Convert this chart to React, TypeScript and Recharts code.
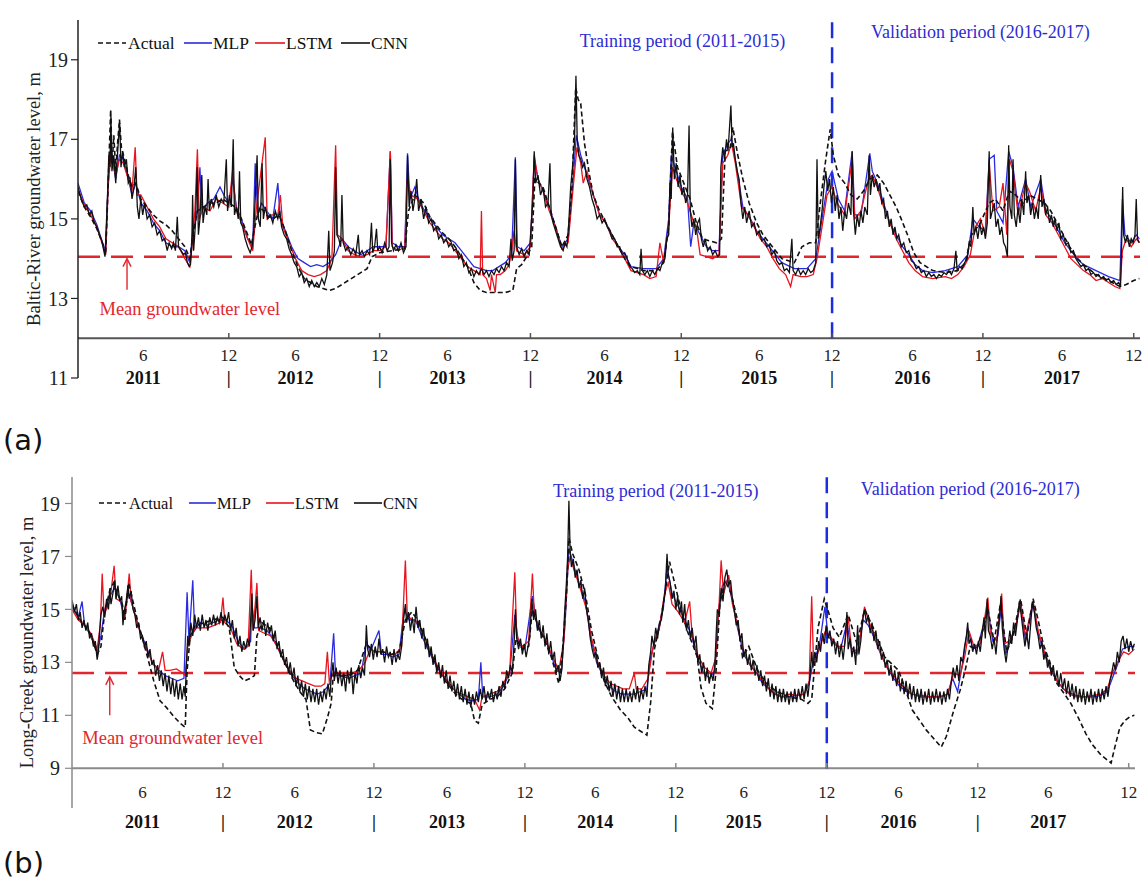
import React from 'react';
import { LineChart, Line, XAxis, YAxis, ReferenceLine, ReferenceDot } from 'recharts';

type P = [number, number];

// ---------------- Panel (a): Baltic-River ----------------
const actualA: P[] = [[0,15.7],[0.5,15.3],[1,15.05],[1.5,14.75],[2,14.35],[2.2,14.1],[2.35,15.4],[2.5,16.8],[2.6,17.75],[2.72,16.4],[2.85,17.1],[3.0,16.2],[3.15,16.9],[3.3,17.5],[3.45,16.8],[3.7,16.5],[4.0,16.1],[4.3,15.8],[4.6,15.9],[5.0,15.5],[5.5,15.3],[6.0,15.1],[6.5,14.95],[7.0,14.85],[7.5,14.7],[8.0,14.5],[8.5,14.3],[8.9,14.0],[9.1,14.5],[9.5,15.2],[10,15.3],[10.5,15.4],[11,15.4],[11.5,15.5],[12,15.4],[12.5,15.3],[13,15.0],[13.5,14.6],[13.8,14.35],[14.2,15.0],[14.5,15.3],[15,15.1],[15.5,15.0],[16,15.1],[16.5,14.7],[17,14.2],[17.5,13.8],[18,13.5],[18.5,13.4],[19,13.3],[19.5,13.25],[20,13.2],[20.5,13.25],[21,13.35],[21.5,13.45],[22,13.55],[22.5,13.65],[23,13.75],[23.4,14.05],[24,14.15],[25,14.2],[26,14.25],[26.3,15.2],[26.8,15.6],[27.5,15.4],[28,15.05],[28.5,14.85],[29,14.65],[29.5,14.5],[30,14.3],[30.5,14.05],[31,13.8],[31.5,13.4],[32,13.2],[32.5,13.15],[33,13.15],[33.5,13.15],[34,13.15],[34.6,13.2],[34.9,13.75],[35.3,13.85],[35.7,14.05],[36.1,14.3],[36.35,16.0],[37,15.8],[37.5,15.3],[38,14.8],[38.5,14.3],[39,14.6],[39.3,15.8],[39.6,18.3],[39.8,18.0],[40.0,17.9],[40.3,16.9],[40.7,16.1],[41,15.6],[41.5,15.2],[42,14.9],[42.5,14.6],[43,14.3],[43.5,14.0],[44,13.8],[45,13.7],[46,13.7],[46.6,13.9],[47,14.8],[47.3,17.2],[47.7,16.3],[48.2,15.9],[48.7,15.5],[49.2,14.9],[49.7,14.5],[50.2,14.45],[50.8,14.4],[51.2,14.5],[51.5,16.7],[51.9,16.8],[52.1,17.3],[52.5,16.6],[52.9,16.0],[53.4,15.4],[54,14.9],[54.5,14.6],[55,14.4],[55.5,14.2],[56,14.0],[57,13.9],[57.6,14.3],[58.2,14.4],[58.7,14.4],[59.1,15.5],[59.5,16.5],[59.85,17.25],[60.1,16.6],[60.5,16.1],[61,15.9],[61.5,15.6],[62,15.5],[62.5,15.7],[63,16.0],[63.6,16.1],[64.1,15.9],[64.6,15.6],[65.1,15.3],[65.5,15.0],[66,14.6],[66.5,14.15],[67,13.9],[68,13.7],[69,13.65],[70,13.7],[70.6,13.9],[71.1,14.6],[71.8,14.9],[72.5,15.4],[73,15.5],[73.6,15.2],[74.1,15.7],[74.6,15.6],[75.2,15.4],[75.7,15.6],[76.3,15.5],[76.9,15.4],[77.4,15.2],[77.9,14.9],[78.4,14.6],[78.9,14.3],[79.4,14.05],[80,13.85],[81,13.6],[82,13.45],[82.9,13.3],[83.4,13.35],[84,13.45],[84.45,13.5]];

const mlpA: P[] = [[0,15.9],[0.5,15.4],[1,15.2],[1.5,14.85],[2,14.35],[2.2,14.2],[2.4,16.0],[2.6,16.8],[2.8,16.4],[3.0,16.0],[3.3,16.6],[3.6,16.5],[4.0,16.0],[4.3,15.6],[4.6,15.9],[5.0,15.4],[5.5,15.2],[6,14.9],[6.5,14.7],[7,14.4],[7.5,14.3],[8,14.3],[8.5,14.2],[8.9,13.9],[9.1,14.6],[9.5,15.2],[9.7,16.3],[9.85,15.2],[10.3,15.4],[10.8,15.5],[11.3,15.8],[11.6,15.6],[12,15.4],[12.3,16.0],[12.6,15.3],[13,15.0],[13.5,14.5],[13.9,14.3],[14.1,16.4],[14.3,15.1],[14.6,15.4],[15,15.2],[15.5,15.0],[15.9,15.9],[16.1,15.0],[16.5,14.7],[17,14.3],[17.5,14.0],[18,13.9],[18.5,13.8],[19,13.85],[19.5,13.8],[20,13.9],[20.5,14.1],[21,14.5],[21.5,14.3],[22,14.2],[22.5,14.1],[23,14.2],[23.5,14.3],[24,14.3],[24.5,14.3],[24.85,16.7],[25,14.4],[25.5,14.3],[26,14.3],[26.22,16.65],[26.4,15.5],[26.8,15.8],[27.2,15.4],[27.6,15.2],[28,15.0],[28.5,14.8],[29,14.6],[29.5,14.5],[30,14.4],[30.5,14.2],[31,14.0],[31.5,13.8],[32,13.75],[32.5,13.7],[33,13.7],[33.5,13.8],[34,13.9],[34.5,14.1],[34.8,16.55],[34.95,14.3],[35.5,14.2],[36,14.4],[36.3,16.5],[36.6,16.0],[37,15.7],[37.5,15.3],[38,14.8],[38.5,14.3],[39,14.5],[39.4,16.0],[39.65,17.1],[40,16.6],[40.5,16.1],[41,15.6],[41.5,15.1],[42,14.9],[42.5,14.6],[43,14.3],[43.5,14.1],[44,13.8],[45,13.75],[46,13.75],[46.6,14.0],[47.0,15.0],[47.2,16.6],[47.5,16.3],[48,15.8],[48.5,15.5],[48.75,14.3],[49,14.9],[49.5,14.6],[50,14.3],[50.5,14.2],[51,14.2],[51.3,16.6],[51.7,16.9],[52.0,17.0],[52.4,16.3],[52.9,15.3],[53.5,15.0],[54,14.7],[54.5,14.5],[55,14.3],[55.5,14.1],[56,13.9],[57,13.75],[58,13.75],[58.7,14.0],[59.2,15.0],[59.7,16.0],[60.0,16.2],[60.5,15.5],[61,15.2],[61.6,16.7],[61.8,15.1],[62.3,15.1],[63.0,16.65],[63.2,16.2],[63.6,15.9],[64.1,15.4],[64.6,14.9],[65.1,14.6],[65.6,14.3],[66.1,14.1],[66.6,13.85],[67.2,13.7],[68,13.65],[69,13.7],[70,13.8],[70.8,14.1],[71.2,15.0],[71.7,14.8],[72.2,14.7],[72.5,16.5],[72.9,16.6],[73.1,15.2],[73.6,14.9],[74.05,16.7],[74.4,16.3],[74.8,15.3],[75.4,16.0],[75.8,15.3],[76.6,16.0],[77,15.2],[77.5,15.0],[78,14.7],[78.5,14.4],[79,14.2],[79.5,14.0],[80,13.85],[81,13.7],[82,13.55],[82.9,13.45],[83.1,15.5],[83.3,14.6],[83.8,14.4],[84.2,14.6],[84.45,14.5]];

const lstmA: P[] = [[0,15.75],[0.5,15.35],[1,15.1],[1.5,14.8],[2,14.3],[2.2,14.1],[2.4,15.8],[2.6,16.6],[2.8,16.3],[3.0,16.1],[3.3,16.5],[3.6,16.4],[4.0,16.0],[4.3,15.7],[4.55,16.8],[4.7,15.6],[5.0,15.6],[5.5,15.3],[6,15.0],[6.5,14.8],[7,14.5],[7.5,14.4],[8,14.3],[8.5,14.0],[8.9,13.8],[9.1,14.4],[9.3,15.2],[9.5,16.75],[9.65,15.0],[10,15.3],[10.5,15.2],[11,15.5],[11.5,15.4],[12,15.3],[12.3,16.2],[12.6,15.2],[13,14.9],[13.5,14.5],[13.9,14.2],[14.2,15.3],[14.9,17.05],[15.05,15.0],[15.4,15.1],[15.9,15.1],[16.1,15.6],[16.3,14.8],[16.8,14.4],[17.3,14.0],[17.8,13.7],[18.3,13.6],[18.8,13.55],[19.3,13.6],[19.8,13.7],[20.2,14.0],[20.5,16.85],[20.65,14.6],[21,14.5],[21.5,14.2],[22,14.1],[22.5,14.05],[23,14.1],[23.5,14.2],[24,14.2],[24.5,14.3],[24.85,16.7],[25.0,14.3],[25.5,14.2],[26,14.3],[26.2,16.0],[26.5,15.6],[27,15.5],[27.5,15.2],[28,14.9],[28.5,14.7],[29,14.5],[29.5,14.4],[30,14.2],[30.5,14.0],[31,13.8],[31.5,13.7],[32,13.6],[32.1,15.2],[32.2,13.6],[32.5,13.5],[32.8,13.2],[32.9,13.6],[33.2,13.15],[33.3,13.6],[33.6,13.6],[34,13.7],[34.3,13.85],[34.5,14.2],[34.7,14.7],[34.9,14.2],[35.5,14.1],[36,14.3],[36.3,16.6],[36.6,16.0],[37,15.7],[37.5,15.2],[38,14.8],[38.5,14.25],[39,14.4],[39.4,15.8],[39.7,16.8],[40,16.4],[40.2,15.9],[40.5,16.2],[41,15.6],[41.5,15.1],[42,14.9],[42.5,14.5],[43,14.3],[43.5,14.0],[44,13.7],[45,13.6],[45.5,13.5],[46,13.55],[46.3,14.4],[46.6,13.9],[47.0,14.8],[47.3,16.3],[47.6,16.0],[48,15.7],[48.5,15.4],[48.9,15.0],[49.2,14.8],[49.5,14.1],[50,14.05],[50.5,14.0],[51,14.1],[51.3,16.4],[51.7,16.6],[52.0,16.9],[52.3,16.4],[52.8,15.3],[53.3,15.1],[53.8,14.8],[54.3,14.5],[54.8,14.3],[55.3,14.0],[55.8,13.75],[56.3,13.6],[56.7,13.3],[56.9,13.6],[57.5,13.55],[58,13.55],[58.5,13.6],[58.8,14.0],[59.2,14.8],[59.6,15.6],[60,15.8],[60.4,15.4],[61,15.1],[61.6,16.5],[61.8,15.0],[62.3,15.2],[62.9,16.0],[63.2,16.1],[63.6,15.8],[64.1,15.3],[64.6,14.9],[65.1,14.5],[65.6,14.2],[66.1,13.9],[66.6,13.7],[67.2,13.55],[68,13.5],[69,13.55],[69.5,13.5],[70,13.6],[70.5,13.8],[71,14.1],[71.4,14.8],[71.8,15.0],[72.2,14.6],[72.5,16.4],[72.8,15.2],[73.3,15.3],[73.6,15.9],[73.9,14.6],[74.1,16.5],[74.4,16.2],[74.8,15.1],[75.4,15.9],[75.7,15.7],[76.2,15.2],[76.6,15.8],[77.0,15.1],[77.5,14.9],[78,14.6],[78.5,14.3],[79,14.0],[79.5,13.85],[80,13.7],[80.5,13.6],[81,13.45],[81.5,13.5],[82,13.4],[82.5,13.3],[82.9,13.25],[83.1,14.2],[83.4,14.5],[83.8,14.3],[84.2,14.5],[84.45,14.4]];

const cnnA: P[] = [[0,15.8],[0.25,15.5],[0.5,15.3],[0.7,15.35],[0.9,15.1],[1.1,15.2],[1.3,14.9],[1.5,14.8],[1.7,14.6],[1.9,14.45],[2.05,14.2],[2.15,14.05],[2.25,14.8],[2.35,15.6],[2.45,16.6],[2.55,16.3],[2.62,17.6],[2.7,16.2],[2.85,16.6],[3.0,15.9],[3.1,16.4],[3.22,17.0],[3.32,17.4],[3.42,16.3],[3.55,16.7],[3.7,16.3],[3.85,16.5],[4.0,15.9],[4.15,16.0],[4.3,15.5],[4.45,15.8],[4.6,16.3],[4.72,15.3],[4.85,15.0],[5.0,15.5],[5.15,15.1],[5.3,15.4],[5.5,15.0],[5.7,15.1],[5.9,14.8],[6.1,14.9],[6.3,14.6],[6.5,14.7],[6.7,14.45],[6.9,14.5],[7.1,14.2],[7.25,14.4],[7.45,14.25],[7.6,14.4],[7.75,14.2],[7.9,15.05],[8.0,14.3],[8.2,14.2],[8.4,14.1],[8.55,14.15],[8.7,13.9],[8.85,13.8],[8.95,13.85],[9.05,14.3],[9.12,15.6],[9.2,14.2],[9.35,14.9],[9.48,16.3],[9.58,14.6],[9.7,15.0],[9.85,16.1],[9.95,14.9],[10.1,15.3],[10.25,15.1],[10.35,16.0],[10.45,15.2],[10.6,15.5],[10.8,15.3],[11.0,15.6],[11.2,15.3],[11.4,15.5],[11.6,15.4],[11.8,16.5],[11.9,15.2],[12.05,15.6],[12.2,15.3],[12.35,17.0],[12.45,15.1],[12.6,15.3],[12.75,15.0],[12.85,16.2],[12.95,14.9],[13.1,14.8],[13.3,14.5],[13.5,14.3],[13.7,14.15],[13.85,14.3],[14.0,14.8],[14.25,16.6],[14.35,15.0],[14.5,14.8],[14.65,16.4],[14.75,15.0],[14.9,15.3],[15.1,15.0],[15.3,15.1],[15.5,14.9],[15.7,15.2],[15.9,15.0],[16.05,15.2],[16.2,14.8],[16.4,14.6],[16.6,14.5],[16.8,14.25],[17.0,14.1],[17.2,13.9],[17.4,13.8],[17.6,13.55],[17.8,13.65],[18.0,13.4],[18.2,13.5],[18.4,13.3],[18.6,13.45],[18.8,13.3],[19.0,13.4],[19.2,13.3],[19.4,13.5],[19.6,13.35],[19.8,13.6],[19.95,14.7],[20.05,13.7],[20.25,13.9],[20.4,14.2],[20.5,16.3],[20.6,14.6],[20.75,14.5],[20.9,14.3],[21.0,15.6],[21.1,14.4],[21.3,14.2],[21.5,14.3],[21.7,14.1],[21.9,14.25],[22.1,14.1],[22.3,14.6],[22.4,14.1],[22.6,14.2],[22.8,14.05],[23.0,14.2],[23.2,14.1],[23.35,14.9],[23.45,14.15],[23.6,14.3],[23.75,14.75],[23.85,14.2],[24.0,14.3],[24.2,14.15],[24.4,14.4],[24.6,14.2],[24.75,14.3],[24.85,16.5],[24.95,14.4],[25.1,14.2],[25.3,14.35],[25.5,14.2],[25.7,14.4],[25.9,14.15],[26.1,14.3],[26.22,16.6],[26.35,15.3],[26.5,15.7],[26.65,15.2],[26.8,15.5],[26.95,16.0],[27.1,15.2],[27.3,15.5],[27.5,15.0],[27.7,15.3],[27.9,14.9],[28.1,15.0],[28.3,14.7],[28.5,14.8],[28.7,14.5],[28.9,14.6],[29.1,14.4],[29.3,14.5],[29.5,14.3],[29.7,14.4],[29.9,14.2],[30.1,14.25],[30.3,14.0],[30.5,14.1],[30.7,13.8],[30.9,13.9],[31.1,13.65],[31.3,13.75],[31.5,13.55],[31.7,13.7],[31.9,13.6],[32.1,13.75],[32.3,13.6],[32.5,13.7],[32.7,13.55],[32.9,13.7],[33.1,13.6],[33.3,13.75],[33.5,13.65],[33.7,13.8],[33.9,13.7],[34.1,13.9],[34.3,13.8],[34.45,14.5],[34.55,13.95],[34.7,14.2],[34.8,16.5],[34.9,14.3],[35.1,14.1],[35.3,14.25],[35.5,14.05],[35.7,14.2],[35.9,14.1],[36.05,14.8],[36.2,15.5],[36.3,16.7],[36.42,15.9],[36.6,16.1],[36.8,15.6],[37.0,15.8],[37.2,15.3],[37.4,15.4],[37.55,16.4],[37.65,15.1],[37.8,14.9],[38.0,14.7],[38.2,14.5],[38.4,14.3],[38.6,14.2],[38.75,14.4],[38.9,14.3],[39.05,14.9],[39.2,15.8],[39.35,16.3],[39.5,16.9],[39.62,18.6],[39.72,17.0],[39.85,16.6],[40.0,16.5],[40.15,16.3],[40.3,16.4],[40.5,16.0],[40.7,15.8],[40.9,15.5],[41.1,15.3],[41.3,15.0],[41.5,15.1],[41.7,14.9],[41.9,15.0],[42.1,14.8],[42.3,14.7],[42.5,14.5],[42.7,14.5],[42.9,14.3],[43.1,14.3],[43.3,14.1],[43.5,14.15],[43.7,14.0],[43.9,13.8],[44.1,13.75],[44.3,13.65],[44.5,13.7],[44.7,13.6],[44.8,14.25],[44.9,13.7],[45.1,13.6],[45.3,13.7],[45.5,13.55],[45.7,13.7],[45.9,13.6],[46.1,13.75],[46.3,13.7],[46.5,13.9],[46.7,14.0],[46.85,14.5],[47.0,14.6],[47.1,15.9],[47.2,15.5],[47.32,17.3],[47.45,16.0],[47.6,16.4],[47.75,15.8],[47.9,16.1],[48.05,15.6],[48.2,15.8],[48.35,15.4],[48.5,15.6],[48.62,17.35],[48.72,15.2],[48.85,14.8],[49.0,15.0],[49.15,14.6],[49.3,14.9],[49.45,15.0],[49.6,14.5],[49.75,14.3],[49.9,14.5],[50.1,14.2],[50.3,14.3],[50.5,14.1],[50.7,14.2],[50.9,14.05],[51.05,14.1],[51.15,16.3],[51.3,16.8],[51.45,16.5],[51.6,17.0],[51.72,16.7],[51.95,17.85],[52.05,16.8],[52.15,16.9],[52.3,16.5],[52.45,16.2],[52.6,16.0],[52.75,15.4],[52.9,15.0],[53.05,15.3],[53.2,14.9],[53.4,15.2],[53.6,14.8],[53.8,14.9],[54.0,14.6],[54.2,14.7],[54.4,14.45],[54.6,14.5],[54.8,14.3],[55.0,14.35],[55.2,14.1],[55.4,14.2],[55.6,13.95],[55.8,13.85],[56.0,13.9],[56.2,13.7],[56.4,13.75],[56.6,13.65],[56.8,14.5],[56.9,13.7],[57.1,13.6],[57.3,13.75],[57.5,13.6],[57.7,13.7],[57.9,13.6],[58.1,13.75],[58.3,13.65],[58.5,13.7],[58.7,13.9],[58.8,16.5],[58.9,14.5],[59.05,14.8],[59.2,15.2],[59.35,15.8],[59.5,16.2],[59.65,15.7],[59.8,16.0],[59.95,15.4],[60.1,15.8],[60.25,15.2],[60.4,15.6],[60.55,15.0],[60.7,15.3],[60.85,14.7],[61.0,15.2],[61.15,15.0],[61.3,15.4],[61.5,15.1],[61.6,16.7],[61.7,15.2],[61.85,14.6],[62.0,15.1],[62.15,14.8],[62.3,15.2],[62.45,14.9],[62.6,15.3],[62.8,15.1],[62.95,16.6],[63.05,15.6],[63.2,16.1],[63.35,15.8],[63.5,16.0],[63.65,15.7],[63.8,15.9],[63.95,15.4],[64.1,15.5],[64.25,15.0],[64.4,15.2],[64.55,14.8],[64.7,15.0],[64.85,14.6],[65.0,14.8],[65.15,14.5],[65.3,14.6],[65.5,14.3],[65.7,14.4],[65.9,14.15],[66.1,14.2],[66.3,13.95],[66.5,13.9],[66.7,13.75],[66.9,13.8],[67.1,13.65],[67.3,13.7],[67.5,13.55],[67.7,13.65],[67.9,13.55],[68.1,13.6],[68.3,13.5],[68.5,13.6],[68.7,13.55],[68.9,13.65],[69.1,13.6],[69.3,13.7],[69.5,13.6],[69.7,13.75],[69.85,14.2],[69.95,13.7],[70.15,13.8],[70.35,13.75],[70.55,13.9],[70.75,14.0],[70.9,14.4],[71.05,14.3],[71.2,15.3],[71.3,14.6],[71.45,14.8],[71.6,14.5],[71.75,14.9],[71.9,14.6],[72.05,14.8],[72.2,14.5],[72.35,14.9],[72.5,16.7],[72.6,15.0],[72.75,15.2],[72.9,15.4],[73.05,14.8],[73.2,15.0],[73.35,14.6],[73.5,14.8],[73.65,14.4],[73.8,14.3],[73.95,14.05],[74.05,16.85],[74.15,15.3],[74.3,15.0],[74.4,16.5],[74.5,15.1],[74.65,14.8],[74.8,15.3],[74.95,14.9],[75.1,15.5],[75.25,15.1],[75.4,16.2],[75.5,15.4],[75.65,15.6],[75.8,15.1],[75.95,15.4],[76.1,15.0],[76.25,15.3],[76.4,15.0],[76.6,16.1],[76.7,15.3],[76.85,15.5],[77.0,15.1],[77.15,15.3],[77.3,14.9],[77.45,15.1],[77.6,14.8],[77.75,15.0],[77.9,14.7],[78.05,14.9],[78.2,14.5],[78.4,14.6],[78.6,14.35],[78.8,14.4],[79.0,14.15],[79.2,14.2],[79.4,14.0],[79.6,13.9],[79.8,13.8],[80.0,13.85],[80.2,13.7],[80.4,13.75],[80.6,13.6],[80.8,13.65],[81.0,13.55],[81.2,13.6],[81.4,13.5],[81.6,13.55],[81.8,13.45],[82.0,13.5],[82.2,13.4],[82.4,13.45],[82.6,13.35],[82.8,13.4],[82.95,13.3],[83.05,14.5],[83.12,15.8],[83.2,14.6],[83.35,14.4],[83.5,14.6],[83.65,14.3],[83.8,14.5],[83.95,14.4],[84.1,14.6],[84.2,15.5],[84.3,14.5],[84.45,14.4]];

// ---------------- Panel (b): Long-Creek ----------------
const actualB: P[] = [[0,15.2],[0.4,14.8],[0.8,14.5],[1.2,14.3],[1.6,13.9],[2.0,13.3],[2.3,13.6],[2.6,14.9],[3.0,15.7],[3.3,16.0],[3.6,15.6],[4.0,15.2],[4.2,14.6],[4.5,16.0],[4.8,15.4],[5.2,14.6],[5.6,13.9],[6.0,13.2],[6.5,12.3],[7.0,11.55],[7.5,11.3],[8.1,10.95],[8.6,10.7],[9.0,10.55],[9.15,12.7],[9.4,14.0],[9.8,14.4],[10.5,14.5],[11.2,14.6],[12.0,14.7],[12.5,14.3],[12.9,12.8],[13.3,12.5],[13.7,12.3],[14.2,12.4],[14.5,12.5],[14.7,14.0],[15.1,14.5],[15.7,14.3],[16.3,13.7],[16.9,13.0],[17.5,12.4],[18.1,11.9],[18.6,11.6],[18.95,10.45],[19.4,10.35],[19.9,10.3],[20.3,10.9],[20.6,11.45],[20.8,12.7],[21.3,12.5],[22,12.5],[22.7,12.7],[23.4,13.7],[24,13.4],[24.7,13.4],[25.4,13.3],[26,13.4],[26.5,14.6],[27.0,14.9],[27.5,14.6],[28.0,14.0],[28.5,13.4],[29.0,12.8],[29.5,12.4],[30.0,12.1],[30.5,11.8],[31.0,11.6],[31.7,11.45],[32.0,10.8],[32.3,10.7],[32.6,11.4],[33.2,11.6],[33.8,11.7],[34.4,12.0],[35.0,12.6],[35.3,13.9],[35.8,13.5],[36.3,13.6],[36.6,15.0],[37.1,14.3],[37.6,13.8],[38.1,13.2],[38.7,12.2],[39.0,13.5],[39.3,15.5],[39.5,17.7],[39.8,17.1],[40.3,16.5],[40.8,15.6],[41.3,14.2],[41.8,13.2],[42.3,12.3],[42.9,11.7],[43.6,11.2],[44.2,10.9],[44.7,10.55],[45.2,10.4],[45.7,10.25],[46.0,11.5],[46.3,13.5],[46.8,14.6],[47.2,15.8],[47.5,16.8],[47.9,16.0],[48.4,15.0],[48.9,14.2],[49.4,13.6],[49.7,13.2],[50.0,12.05],[50.4,11.45],[50.9,11.25],[51.2,12.7],[51.5,15.2],[51.9,16.1],[52.4,15.6],[52.9,14.6],[53.3,13.2],[53.8,13.6],[54.5,12.7],[55.2,12.2],[56,11.9],[57,11.7],[58,11.6],[58.5,11.45],[58.8,11.6],[59.3,14.3],[59.8,15.4],[60.2,14.8],[60.5,14.3],[61.0,13.95],[61.7,14.8],[62.4,13.7],[63.0,15.0],[63.7,14.3],[64.6,13.2],[65.7,12.7],[66.2,12.05],[66.8,11.2],[67.9,10.45],[69.1,9.8],[69.5,10.2],[70.1,11.2],[70.6,11.95],[71.0,12.7],[71.4,13.6],[71.9,13.5],[72.4,14.2],[72.8,15.0],[73.3,13.8],[73.8,15.2],[74.3,13.4],[74.8,14.0],[75.4,15.4],[75.9,14.0],[76.4,15.4],[76.8,14.6],[77.2,13.7],[77.8,12.9],[78.3,12.2],[78.9,11.8],[79.4,11.45],[80.0,10.9],[80.6,10.3],[81.1,9.9],[81.8,9.5],[82.6,9.2],[82.9,9.8],[83.3,10.55],[83.7,10.8],[84.1,10.95],[84.45,11.0]];

const mlpB: P[] = [[0,15.1],[0.5,14.7],[0.8,15.3],[1.0,14.4],[1.5,14.0],[2.0,13.4],[2.3,14.0],[2.6,15.0],[3.0,15.5],[3.4,15.8],[3.8,15.4],[4.1,14.8],[4.5,15.6],[4.9,15.0],[5.4,14.2],[5.9,13.6],[6.4,13.0],[6.9,12.7],[7.4,12.5],[7.9,12.4],[8.4,12.3],[8.9,12.4],[9.15,15.65],[9.3,13.8],[9.6,16.1],[9.75,14.2],[10.2,14.5],[10.7,14.4],[11.2,14.5],[11.7,14.6],[12.2,14.6],[12.7,14.4],[13.2,13.8],[13.7,13.5],[14.2,13.8],[14.3,15.2],[14.5,14.3],[15,14.3],[15.5,14.2],[16,13.9],[16.5,13.4],[17,12.9],[17.5,12.5],[18,12.2],[18.5,12.0],[19,11.9],[19.5,11.8],[20,11.9],[20.5,12.2],[20.8,14.1],[20.95,12.5],[21.3,12.5],[22,12.4],[22.5,12.5],[23,12.6],[23.4,13.8],[23.7,13.4],[24.4,14.2],[24.6,13.3],[25,13.3],[25.5,13.2],[26,13.3],[26.4,15.0],[26.8,14.6],[27.3,14.6],[27.8,14.0],[28.3,13.5],[28.8,13.0],[29.3,12.6],[29.8,12.3],[30.3,12.0],[30.8,11.8],[31.3,11.6],[31.8,11.55],[32.3,11.6],[32.5,13.0],[32.65,11.7],[33.2,11.7],[33.8,11.8],[34.3,12.1],[34.8,12.6],[35.2,14.8],[35.5,13.7],[36,13.5],[36.6,15.5],[37,14.3],[37.5,14.0],[38,13.4],[38.5,12.7],[38.9,12.6],[39.2,14.5],[39.5,17.3],[39.8,16.8],[40.3,16.0],[40.8,15.3],[41.2,14.0],[41.7,13.0],[42.2,12.5],[42.7,12.1],[43.2,11.9],[43.7,11.8],[44.2,11.8],[44.7,11.8],[45.2,11.9],[45.7,12.0],[46.0,13.2],[46.5,14.1],[47.0,15.0],[47.3,16.6],[47.7,15.6],[48.2,15.1],[48.7,14.6],[49.2,14.1],[49.7,13.2],[50.2,12.6],[50.7,12.4],[51.1,12.7],[51.4,15.0],[51.7,15.9],[52.1,16.1],[52.5,15.3],[52.9,14.3],[53.4,13.3],[53.9,12.9],[54.4,12.6],[54.9,12.2],[55.4,12.0],[55.9,11.8],[56.4,11.7],[57,11.7],[57.6,11.75],[58.2,11.8],[58.6,12.2],[58.9,13.0],[59.4,13.6],[59.85,15.1],[60.1,14.0],[60.6,13.7],[61.1,13.5],[61.6,14.5],[61.9,13.6],[62.4,13.3],[62.9,14.6],[63.3,14.4],[63.8,13.9],[64.3,13.3],[64.8,12.8],[65.3,12.4],[65.8,12.1],[66.3,11.9],[66.8,11.8],[67.5,11.7],[68.2,11.7],[69,11.7],[69.6,11.8],[70.0,12.4],[70.4,11.9],[70.8,13.0],[71.2,14.3],[71.6,13.5],[72.0,13.6],[72.5,14.5],[72.8,15.0],[73.2,13.8],[73.6,14.0],[73.9,15.2],[74.2,13.3],[74.6,13.8],[75.0,14.3],[75.4,15.2],[75.8,13.8],[76.4,15.2],[76.8,14.1],[77.3,13.3],[77.8,12.7],[78.3,12.3],[78.8,12.0],[79.3,11.85],[79.8,11.75],[80.5,11.7],[81.2,11.7],[81.8,11.75],[82.3,11.9],[82.7,12.4],[83.1,12.9],[83.5,13.5],[84.0,13.6],[84.45,13.6]];

const lstmB: P[] = [[0,15.0],[0.5,14.6],[1.0,14.4],[1.5,14.1],[2.0,13.5],[2.25,14.4],[2.4,16.35],[2.55,14.8],[3.0,15.3],[3.35,16.65],[3.5,15.4],[3.9,15.3],[4.2,14.6],[4.55,16.35],[4.7,15.3],[5.0,14.8],[5.5,14.0],[6.0,13.4],[6.5,12.9],[6.9,12.75],[7.2,13.4],[7.4,12.7],[7.8,12.7],[8.3,12.75],[8.8,12.6],[9.0,12.5],[9.2,13.6],[9.5,14.0],[9.8,14.3],[10.3,14.3],[10.8,14.3],[11.3,14.4],[11.8,14.5],[12.0,15.45],[12.15,14.5],[12.6,14.3],[13.1,13.7],[13.6,13.5],[14.0,13.6],[14.25,16.5],[14.4,14.2],[14.7,16.0],[14.85,14.2],[15.3,14.1],[15.8,14.0],[16.3,13.6],[16.8,13.1],[17.3,12.7],[17.8,12.4],[18.3,12.3],[18.8,12.2],[19.3,12.1],[19.8,12.1],[20.1,12.2],[20.3,13.4],[20.45,12.3],[20.8,12.6],[21.3,12.6],[21.8,12.5],[22.3,12.6],[22.8,12.7],[23.3,13.0],[23.7,13.5],[24.2,13.4],[24.7,13.4],[25.2,13.3],[25.7,13.3],[26.2,13.6],[26.5,16.85],[26.65,14.8],[27.0,14.6],[27.5,14.5],[28.0,14.0],[28.5,13.4],[29.0,12.9],[29.5,12.5],[30.0,12.2],[30.5,11.9],[31.0,11.8],[31.5,11.7],[32.0,11.6],[32.4,11.2],[32.6,11.7],[33.2,11.8],[33.8,11.9],[34.3,12.2],[34.8,12.7],[35.2,16.4],[35.35,14.0],[35.8,13.6],[36.3,13.8],[36.6,16.35],[36.75,14.8],[37.2,14.2],[37.7,13.8],[38.2,13.2],[38.7,12.7],[39.1,13.8],[39.4,16.5],[39.6,17.0],[39.9,16.5],[40.4,15.8],[40.9,15.0],[41.3,13.9],[41.8,13.0],[42.3,12.5],[42.8,12.2],[43.3,12.1],[43.8,12.0],[44.3,12.0],[44.7,12.6],[44.85,12.0],[45.3,12.0],[45.8,12.4],[46.2,13.6],[46.7,14.3],[47.1,15.6],[47.4,16.0],[47.7,15.2],[48.2,14.9],[48.7,14.5],[49.1,15.3],[49.3,14.0],[49.8,13.2],[50.3,12.8],[50.8,12.6],[51.2,13.2],[51.45,15.3],[51.6,16.85],[51.8,15.6],[52.2,16.3],[52.5,15.2],[52.9,14.4],[53.4,13.4],[53.9,12.9],[54.4,12.6],[54.9,12.3],[55.4,12.0],[55.9,11.8],[56.5,11.7],[57,11.8],[57.6,11.75],[58.2,11.8],[58.6,12.3],[58.8,15.5],[58.95,12.9],[59.4,13.5],[59.9,14.2],[60.4,13.9],[60.9,13.6],[61.4,13.6],[61.7,14.7],[62.0,13.4],[62.5,13.5],[63.0,15.1],[63.3,14.6],[63.8,14.0],[64.3,13.3],[64.8,12.8],[65.3,12.5],[65.8,12.2],[66.3,12.0],[66.8,11.8],[67.5,11.75],[68.2,11.7],[69,11.7],[69.6,11.8],[70.1,12.6],[70.6,12.5],[71.0,13.3],[71.3,14.2],[71.7,13.6],[72.2,13.7],[72.5,14.5],[72.8,15.45],[73.0,14.1],[73.5,13.8],[73.9,15.6],[74.1,13.7],[74.5,13.8],[75.0,14.3],[75.4,15.3],[75.8,14.0],[76.4,15.3],[76.8,14.2],[77.3,13.4],[77.8,12.8],[78.3,12.3],[78.8,12.0],[79.3,11.8],[79.8,11.7],[80.5,11.7],[81.2,11.75],[81.8,11.8],[82.3,12.0],[82.7,12.6],[83.1,13.0],[83.6,13.4],[84.0,13.3],[84.45,13.5]];

const cnnB: P[] = [[0,15.35],[0.2,14.9],[0.35,15.2],[0.5,14.6],[0.65,14.9],[0.8,14.3],[0.95,14.6],[1.1,14.2],[1.25,14.5],[1.4,13.9],[1.55,14.1],[1.7,13.6],[1.85,13.8],[2.0,13.1],[2.1,13.4],[2.2,14.2],[2.3,14.8],[2.45,15.1],[2.6,14.7],[2.75,15.4],[2.9,15.0],[3.0,15.8],[3.1,15.2],[3.25,15.6],[3.4,16.1],[3.5,15.4],[3.65,15.9],[3.8,15.3],[3.95,15.5],[4.05,14.4],[4.15,14.9],[4.3,15.3],[4.45,15.9],[4.55,15.4],[4.7,15.7],[4.85,15.0],[5.0,14.8],[5.15,14.3],[5.3,14.5],[5.45,13.9],[5.6,14.0],[5.75,13.6],[5.9,13.8],[6.05,13.2],[6.2,13.5],[6.35,12.9],[6.5,13.1],[6.65,12.5],[6.8,12.9],[6.95,12.3],[7.1,12.7],[7.25,12.1],[7.4,12.6],[7.55,11.9],[7.7,12.5],[7.85,11.8],[8.0,12.4],[8.15,11.7],[8.3,12.3],[8.45,11.6],[8.6,12.2],[8.75,11.6],[8.9,12.1],[9.0,11.7],[9.1,13.0],[9.2,14.0],[9.3,13.6],[9.45,14.5],[9.6,14.0],[9.75,14.8],[9.9,14.3],[10.05,14.7],[10.2,14.2],[10.35,14.8],[10.5,14.3],[10.65,14.6],[10.8,14.2],[10.95,14.7],[11.1,14.4],[11.25,14.8],[11.4,14.4],[11.55,14.7],[11.7,14.5],[11.85,14.9],[12.0,14.4],[12.15,14.8],[12.3,14.5],[12.45,14.9],[12.6,14.2],[12.75,14.6],[12.9,13.9],[13.05,14.3],[13.2,13.6],[13.35,14.0],[13.5,13.4],[13.65,13.8],[13.8,13.5],[13.95,13.9],[14.1,13.6],[14.2,14.6],[14.3,15.6],[14.4,14.2],[14.55,14.6],[14.7,15.5],[14.8,14.3],[14.95,14.7],[15.1,14.2],[15.25,14.6],[15.4,14.0],[15.55,14.5],[15.7,14.1],[15.85,14.4],[16.0,13.8],[16.15,14.2],[16.3,13.5],[16.45,13.8],[16.6,13.2],[16.75,13.5],[16.9,12.9],[17.05,13.2],[17.2,12.6],[17.35,13.0],[17.5,12.4],[17.65,12.8],[17.8,12.1],[17.95,12.5],[18.1,11.9],[18.25,12.3],[18.4,11.7],[18.55,12.2],[18.7,11.6],[18.85,12.1],[19.0,11.5],[19.15,12.0],[19.3,11.5],[19.45,12.0],[19.6,11.4],[19.75,11.9],[19.9,11.5],[20.05,12.0],[20.2,11.6],[20.35,12.2],[20.5,11.7],[20.6,12.4],[20.75,13.0],[20.85,12.3],[21.0,12.8],[21.15,12.2],[21.3,12.7],[21.45,12.1],[21.6,12.6],[21.75,11.9],[21.9,12.7],[22.05,12.2],[22.2,12.8],[22.35,11.8],[22.5,12.6],[22.65,12.2],[22.8,12.9],[22.95,12.4],[23.1,12.8],[23.25,12.5],[23.4,14.4],[23.5,13.5],[23.65,13.2],[23.8,13.7],[23.95,13.1],[24.1,13.6],[24.25,13.2],[24.4,13.9],[24.55,13.3],[24.7,13.5],[24.85,13.0],[25.0,13.6],[25.15,13.2],[25.3,13.4],[25.45,12.9],[25.6,13.5],[25.75,13.0],[25.9,13.3],[26.05,13.1],[26.2,13.6],[26.35,14.6],[26.5,15.2],[26.6,14.5],[26.75,14.9],[26.9,14.2],[27.05,14.7],[27.2,14.1],[27.35,15.1],[27.5,14.3],[27.65,14.6],[27.8,13.9],[27.95,14.3],[28.1,13.5],[28.25,13.9],[28.4,13.2],[28.55,13.6],[28.7,12.9],[28.85,13.3],[29.0,12.6],[29.15,13.0],[29.3,12.4],[29.45,12.9],[29.6,12.2],[29.75,12.7],[29.9,12.0],[30.05,12.5],[30.2,11.9],[30.35,12.3],[30.5,11.7],[30.65,12.2],[30.8,11.6],[30.95,12.1],[31.1,11.5],[31.25,12.0],[31.4,11.4],[31.55,11.9],[31.7,11.3],[31.85,11.8],[32.0,11.4],[32.15,11.9],[32.3,11.5],[32.45,12.0],[32.6,11.6],[32.75,12.1],[32.9,11.5],[33.05,11.9],[33.2,11.6],[33.35,12.0],[33.5,11.5],[33.65,11.9],[33.8,11.6],[33.95,12.1],[34.1,11.7],[34.25,12.3],[34.4,12.0],[34.55,12.7],[34.7,12.4],[34.85,12.9],[35.0,12.6],[35.15,13.8],[35.25,15.0],[35.35,13.9],[35.5,13.5],[35.65,13.9],[35.8,13.3],[35.95,13.7],[36.1,13.2],[36.25,13.6],[36.4,14.0],[36.55,15.4],[36.7,14.6],[36.85,15.0],[37.0,14.2],[37.15,14.6],[37.3,13.9],[37.45,14.4],[37.6,13.6],[37.75,14.1],[37.9,13.3],[38.05,13.8],[38.2,13.1],[38.35,13.4],[38.5,12.6],[38.65,12.9],[38.8,12.3],[38.95,12.8],[39.05,13.7],[39.15,14.8],[39.3,16.0],[39.4,17.0],[39.5,19.1],[39.6,17.2],[39.7,16.6],[39.85,16.9],[40.0,16.2],[40.15,16.5],[40.3,15.8],[40.45,16.1],[40.6,15.4],[40.75,15.8],[40.9,15.0],[41.05,14.6],[41.2,13.9],[41.35,13.5],[41.5,13.2],[41.65,13.4],[41.8,12.8],[41.95,13.0],[42.1,12.4],[42.25,12.8],[42.4,12.1],[42.55,12.5],[42.7,11.9],[42.85,12.3],[43.0,11.7],[43.15,12.2],[43.3,11.6],[43.45,12.1],[43.6,11.5],[43.75,12.0],[43.9,11.5],[44.05,12.0],[44.2,11.5],[44.35,11.9],[44.5,11.5],[44.65,12.0],[44.8,11.6],[44.95,12.1],[45.1,11.5],[45.25,12.0],[45.4,11.6],[45.55,12.1],[45.7,11.7],[45.85,12.9],[46.0,13.4],[46.1,14.0],[46.25,13.6],[46.4,14.3],[46.55,13.9],[46.7,14.5],[46.85,14.6],[47.0,15.2],[47.15,15.6],[47.3,17.1],[47.4,16.3],[47.55,16.0],[47.7,15.4],[47.85,15.7],[48.0,15.0],[48.15,15.5],[48.3,14.8],[48.45,15.3],[48.55,14.5],[48.7,15.2],[48.85,14.2],[49.0,14.6],[49.15,13.9],[49.3,14.3],[49.45,13.6],[49.6,14.0],[49.75,13.0],[49.9,13.3],[50.05,12.6],[50.2,13.0],[50.35,12.3],[50.5,12.8],[50.65,12.2],[50.8,12.6],[50.95,12.3],[51.1,12.9],[51.2,14.0],[51.3,15.0],[51.45,14.8],[51.6,15.8],[51.75,15.3],[51.9,16.2],[52.05,16.5],[52.2,15.9],[52.35,16.1],[52.5,15.4],[52.65,15.0],[52.8,14.4],[52.95,14.6],[53.1,13.8],[53.25,14.1],[53.4,13.2],[53.55,13.5],[53.7,12.9],[53.85,13.3],[54.0,12.7],[54.15,13.1],[54.3,12.5],[54.45,12.9],[54.6,12.3],[54.75,12.7],[54.9,12.1],[55.05,12.5],[55.2,11.9],[55.35,12.4],[55.5,11.7],[55.65,12.2],[55.8,11.6],[55.95,12.1],[56.1,11.5],[56.25,12.0],[56.4,11.5],[56.55,12.0],[56.7,11.5],[56.85,11.9],[57.0,11.4],[57.15,11.9],[57.3,11.5],[57.45,12.0],[57.6,11.5],[57.75,12.0],[57.9,11.6],[58.05,12.1],[58.2,11.6],[58.35,12.2],[58.5,11.7],[58.65,12.4],[58.8,13.4],[58.9,12.8],[59.05,13.4],[59.2,13.0],[59.35,13.8],[59.5,13.4],[59.65,14.1],[59.8,13.7],[59.95,14.4],[60.1,13.9],[60.25,14.2],[60.4,13.6],[60.55,13.9],[60.7,13.3],[60.85,13.8],[61.0,13.2],[61.15,13.7],[61.3,13.1],[61.45,13.8],[61.6,14.9],[61.7,13.5],[61.85,13.9],[62.0,13.2],[62.15,13.6],[62.3,12.9],[62.45,14.4],[62.55,13.3],[62.7,13.8],[62.85,14.6],[63.0,15.0],[63.15,14.5],[63.3,14.8],[63.45,14.1],[63.6,14.5],[63.75,13.8],[63.9,14.2],[64.05,13.5],[64.2,13.8],[64.35,13.1],[64.5,13.4],[64.65,12.8],[64.8,13.1],[64.95,12.5],[65.1,12.9],[65.25,12.3],[65.4,12.7],[65.55,12.1],[65.7,12.6],[65.85,11.9],[66.0,12.4],[66.15,11.8],[66.3,12.3],[66.45,11.7],[66.6,12.2],[66.75,11.6],[66.9,12.1],[67.05,11.5],[67.2,12.0],[67.35,11.5],[67.5,12.0],[67.65,11.4],[67.8,11.9],[67.95,11.5],[68.1,12.0],[68.25,11.4],[68.4,11.9],[68.55,11.5],[68.7,12.0],[68.85,11.5],[69.0,11.9],[69.15,11.4],[69.3,11.9],[69.45,11.5],[69.6,12.0],[69.75,11.6],[69.9,12.3],[70.05,12.8],[70.2,12.4],[70.35,12.9],[70.5,12.3],[70.65,13.2],[70.8,13.0],[70.95,13.6],[71.1,14.0],[71.2,14.5],[71.3,13.7],[71.45,13.9],[71.6,13.4],[71.75,13.7],[71.9,13.3],[72.05,13.8],[72.2,13.4],[72.35,14.1],[72.5,14.7],[72.6,13.9],[72.75,15.4],[72.85,14.2],[73.0,14.0],[73.15,13.5],[73.3,13.9],[73.45,13.3],[73.6,14.2],[73.75,14.8],[73.85,15.5],[73.95,14.3],[74.1,13.5],[74.25,13.0],[74.4,13.6],[74.55,14.2],[74.7,13.7],[74.85,14.5],[75.0,14.0],[75.15,14.6],[75.3,15.3],[75.45,14.8],[75.6,14.2],[75.75,13.6],[75.9,14.1],[76.05,13.5],[76.2,14.4],[76.35,15.3],[76.5,14.9],[76.65,14.3],[76.8,14.0],[76.95,13.5],[77.1,13.8],[77.25,13.1],[77.4,13.4],[77.55,12.8],[77.7,13.1],[77.85,12.5],[78.0,12.9],[78.15,12.3],[78.3,12.7],[78.45,12.1],[78.6,12.6],[78.75,12.0],[78.9,12.4],[79.05,11.8],[79.2,12.3],[79.35,11.7],[79.5,12.2],[79.65,11.6],[79.8,12.1],[79.95,11.5],[80.1,12.0],[80.25,11.5],[80.4,12.0],[80.55,11.4],[80.7,11.9],[80.85,11.5],[81.0,12.0],[81.15,11.4],[81.3,11.9],[81.45,11.5],[81.6,12.0],[81.75,11.5],[81.9,12.0],[82.05,11.6],[82.2,12.1],[82.35,11.7],[82.5,12.3],[82.65,12.6],[82.8,13.0],[82.95,12.7],[83.1,13.4],[83.25,13.0],[83.4,13.8],[83.55,14.0],[83.7,13.5],[83.85,13.9],[84.0,13.4],[84.15,13.8],[84.3,13.5],[84.45,13.7]];

// ---------------- Axis ticks / labels ----------------
const monthTicksA = [5.2, 12, 17.3, 24, 29.4, 36, 41.9, 48, 54.2, 60, 66.4, 72, 78.3, 84];
const monthTicksB = [5.6, 12, 17.7, 24, 29.8, 36, 41.6, 48, 53.4, 60, 65.7, 72, 77.6, 84];
const monthLabels = ['6', '12', '6', '12', '6', '12', '6', '12', '6', '12', '6', '12', '6', '12'];
const yearRow = ['2011', '|', '2012', '|', '2013', '|', '2014', '|', '2015', '|', '2016', '|', '2017', ''];
const yTicksA = [11, 13, 15, 17, 19];
const yTicksB = [9, 11, 13, 15, 17, 19];
const meanA = 14.05;
const meanB = 12.6;
const splitMonth = 60;

const SERIF = '"Liberation Serif", "Times New Roman", serif';
const C_MLP = '#2a2ae0';
const C_LSTM = '#e8141e';
const C_CNN = '#111111';
const C_MEAN = '#e2262e';
const C_SPLIT = '#1a2ee0';
const C_BLUE_TEXT = '#2c2cd4';

const toPts = (a: P[]) => a.map(([t, v]) => ({ t, v }));

type XTickCfg = { ticks: number[]; monthDy: number; yearDy: number; lineDy: number; lineColor: string };

const renderXTick = (p: any, cfg: XTickCfg) => {
  const { x, y, payload } = p;
  const i = cfg.ticks.findIndex((v) => Math.abs(v - payload.value) < 1e-6);
  if (i < 0) return <g />;
  const isTwelve = monthLabels[i] === '12';
  return (
    <g>
      {isTwelve && (
        <line x1={x} x2={x} y1={y + cfg.lineDy - 5} y2={y + cfg.lineDy} stroke={cfg.lineColor} strokeWidth={1.5} />
      )}
      <text x={x} y={y + cfg.monthDy} textAnchor="middle" dominantBaseline="central" fontFamily={SERIF} fontSize={17} fill="#222">
        {monthLabels[i]}
      </text>
      <text x={x} y={y + cfg.yearDy} textAnchor="middle" dominantBaseline="central" fontFamily={SERIF} fontSize={18} fontWeight="bold" fill="#111">
        {yearRow[i]}
      </text>
    </g>
  );
};

const YLabel = (props: any) => {
  const { viewBox, text, cx, fallbackY } = props;
  const cy = viewBox && typeof viewBox.y === 'number' ? viewBox.y + viewBox.height / 2 : fallbackY;
  return (
    <text x={cx} y={cy} transform={`rotate(-90 ${cx} ${cy})`} textAnchor="middle" dominantBaseline="central" fontFamily={SERIF} fontSize={18.5} fill="#222">
      {text}
    </text>
  );
};

const ArrowHead = (p: any) => {
  const { cx, cy } = p;
  return <path d={`M${cx - 4},${cy + 8} L${cx},${cy} L${cx + 4},${cy + 8}`} fill="none" stroke={C_MEAN} strokeWidth={1.4} />;
};

type PanelProps = {
  top: number;
  yDomain: [number, number];
  yTicks: number[];
  yWidth: number;
  marginRight: number;
  xAxisHeight: number;
  axisValue: number;
  axisColor: string;
  yAxisColor: string;
  mean: number;
  xTick: XTickCfg;
  yLabel: string;
  yLabelX: number;
  actual: P[];
  mlp: P[];
  lstm: P[];
  cnn: P[];
  trainPos: [number, number];
  validPos: [number, number];
  meanTextPos: [number, number];
  arrow: [number, number, number];
  yTickMargin: number;
};

const Panel = (pp: PanelProps) => (
  <div style={{ position: 'absolute', left: 0, top: pp.top }}>
    <LineChart width={1143} height={400} margin={{ top: 20, right: pp.marginRight, left: 0, bottom: 0 }}>
      <XAxis
        type="number"
        dataKey="t"
        domain={[0, 84.5]}
        allowDataOverflow
        ticks={pp.xTick.ticks}
        interval={0}
        axisLine={false}
        tickLine={false}
        tickSize={0}
        tickMargin={0}
        height={pp.xAxisHeight}
        tick={(p: any) => renderXTick(p, pp.xTick)}
      />
      <YAxis
        type="number"
        domain={pp.yDomain}
        allowDataOverflow
        ticks={pp.yTicks}
        interval={0}
        width={pp.yWidth}
        axisLine={{ stroke: pp.yAxisColor, strokeWidth: 1.5 }}
        tickLine={{ stroke: pp.yAxisColor, strokeWidth: 1.2 }}
        tickSize={7}
        tickMargin={pp.yTickMargin}
        tick={{ fill: '#222', fontSize: 20, fontFamily: SERIF }}
        label={<YLabel text={pp.yLabel} cx={pp.yLabelX} fallbackY={200} />}
      />
      <ReferenceLine y={pp.axisValue} stroke={pp.axisColor} strokeWidth={2} />
      <ReferenceLine y={pp.mean} stroke={C_MEAN} strokeWidth={2.5} strokeDasharray="22 11" />
      <ReferenceLine
        segment={[{ x: splitMonth, y: pp.axisValue }, { x: splitMonth, y: pp.yDomain[1] }]}
        stroke={C_SPLIT}
        strokeWidth={2.5}
        strokeDasharray="16 9"
      />
      <Line data={toPts(pp.mlp)} dataKey="v" type="linear" dot={false} stroke={C_MLP} strokeWidth={1.3} isAnimationActive={false} />
      <Line data={toPts(pp.lstm)} dataKey="v" type="linear" dot={false} stroke={C_LSTM} strokeWidth={1.3} isAnimationActive={false} />
      <Line data={toPts(pp.cnn)} dataKey="v" type="linear" dot={false} stroke={C_CNN} strokeWidth={1.3} isAnimationActive={false} />
      <Line data={toPts(pp.actual)} dataKey="v" type="linear" dot={false} stroke="#111" strokeWidth={1.6} strokeDasharray="5 3" isAnimationActive={false} />
      <ReferenceLine
        segment={[{ x: pp.arrow[0], y: pp.arrow[1] }, { x: pp.arrow[0], y: pp.arrow[2] }]}
        stroke={C_MEAN}
        strokeWidth={1.4}
      />
      <ReferenceDot x={pp.arrow[0]} y={pp.arrow[2]} r={3} shape={(p: any) => <ArrowHead {...p} />} />
      <ReferenceDot
        x={pp.trainPos[0]}
        y={pp.trainPos[1]}
        r={0}
        fill="none"
        stroke="none"
        label={{ value: 'Training period (2011-2015)', position: 'center', fill: C_BLUE_TEXT, fontSize: 18, fontFamily: SERIF }}
      />
      <ReferenceDot
        x={pp.validPos[0]}
        y={pp.validPos[1]}
        r={0}
        fill="none"
        stroke="none"
        label={{ value: 'Validation period (2016-2017)', position: 'center', fill: C_BLUE_TEXT, fontSize: 18, fontFamily: SERIF }}
      />
      <ReferenceDot
        x={pp.meanTextPos[0]}
        y={pp.meanTextPos[1]}
        r={0}
        fill="none"
        stroke="none"
        label={{ value: 'Mean groundwater level', position: 'center', fill: C_MEAN, fontSize: 18.5, fontFamily: SERIF }}
      />
    </LineChart>
  </div>
);

type LegendItem = { label: string; color: string; dashed: boolean; x0: number; x1: number; tx: number };

const legendItemsA: LegendItem[] = [
  { label: 'Actual', color: '#111', dashed: true, x0: 98, x1: 126, tx: 128 },
  { label: 'MLP', color: C_MLP, dashed: false, x0: 184, x1: 212, tx: 213 },
  { label: 'LSTM', color: C_LSTM, dashed: false, x0: 255, x1: 285, tx: 286 },
  { label: 'CNN', color: C_CNN, dashed: false, x0: 341, x1: 370, tx: 371 },
];
const legendItemsB: LegendItem[] = [
  { label: 'Actual', color: '#111', dashed: true, x0: 99, x1: 126, tx: 129 },
  { label: 'MLP', color: C_MLP, dashed: false, x0: 189, x1: 216, tx: 217 },
  { label: 'LSTM', color: C_LSTM, dashed: false, x0: 266, x1: 294, tx: 295 },
  { label: 'CNN', color: C_CNN, dashed: false, x0: 354, x1: 382, tx: 383 },
];

const LegendBox = ({ cy, items, fontSize }: { cy: number; items: LegendItem[]; fontSize: number }) => (
  <div style={{ position: 'absolute', left: 0, top: 0, width: 1143, height: 887, pointerEvents: 'none' }}>
    <svg width={1143} height={887} style={{ position: 'absolute', left: 0, top: 0 }}>
      {items.map((it) => (
        <g key={it.label}>
          <line x1={it.x0} x2={it.x1} y1={cy} y2={cy} stroke={it.color} strokeWidth={1.6} strokeDasharray={it.dashed ? '5 3' : undefined} />
          <text x={it.tx} y={cy} dominantBaseline="central" fontFamily={SERIF} fontSize={fontSize} fill="#111">
            {it.label}
          </text>
        </g>
      ))}
    </svg>
  </div>
);

export default function App() {
  return (
    <div style={{ position: 'absolute', left: 0, top: 0, width: 1143, height: 887, background: '#fff', overflow: 'hidden' }}>
      <Panel
        top={0}
        yDomain={[11, 20]}
        yTicks={yTicksA}
        yWidth={78}
        marginRight={3}
        xAxisHeight={22}
        axisValue={12}
        axisColor="#555"
        yAxisColor="#222"
        mean={meanA}
        xTick={{ ticks: monthTicksA, monthDy: -23, yearDy: 0, lineDy: -40, lineColor: '#555' }}
        yLabel="Baltic-River groundwater level, m"
        yLabelX={34}
        actual={actualA}
        mlp={mlpA}
        lstm={lstmA}
        cnn={cnnA}
        trainPos={[48.1, 19.47]}
        validPos={[71.8, 19.72]}
        meanTextPos={[8.9, 12.76]}
        arrow={[3.9, 13.22, 14.0]}
        yTickMargin={3}
      />
      <Panel
        top={457}
        yDomain={[7.5, 20]}
        yTicks={yTicksB}
        yWidth={72}
        marginRight={8}
        xAxisHeight={49}
        axisValue={9}
        axisColor="#8a8a8a"
        yAxisColor="#8a8a8a"
        mean={meanB}
        xTick={{ ticks: monthTicksB, monthDy: -16, yearDy: 14, lineDy: -40, lineColor: '#8a8a8a' }}
        yLabel="Long-Creek groundwater level, m"
        yLabelX={27}
        actual={actualB}
        mlp={mlpB}
        lstm={lstmB}
        cnn={cnnB}
        trainPos={[46.4, 19.47]}
        validPos={[71.4, 19.58]}
        meanTextPos={[8.0, 10.18]}
        arrow={[3.0, 11.0, 12.45]}
        yTickMargin={5}
      />
      <LegendBox cy={43} items={legendItemsA} fontSize={17.5} />
      <LegendBox cy={503} items={legendItemsB} fontSize={16.5} />
      <div style={{ position: 'absolute', left: 3, top: 420, fontFamily: '"DejaVu Sans", sans-serif', fontSize: 29, lineHeight: '40px', color: '#111' }}>(a)</div>
      <div style={{ position: 'absolute', left: 3, top: 843, fontFamily: '"DejaVu Sans", sans-serif', fontSize: 29, lineHeight: '40px', color: '#111' }}>(b)</div>
    </div>
  );
}
